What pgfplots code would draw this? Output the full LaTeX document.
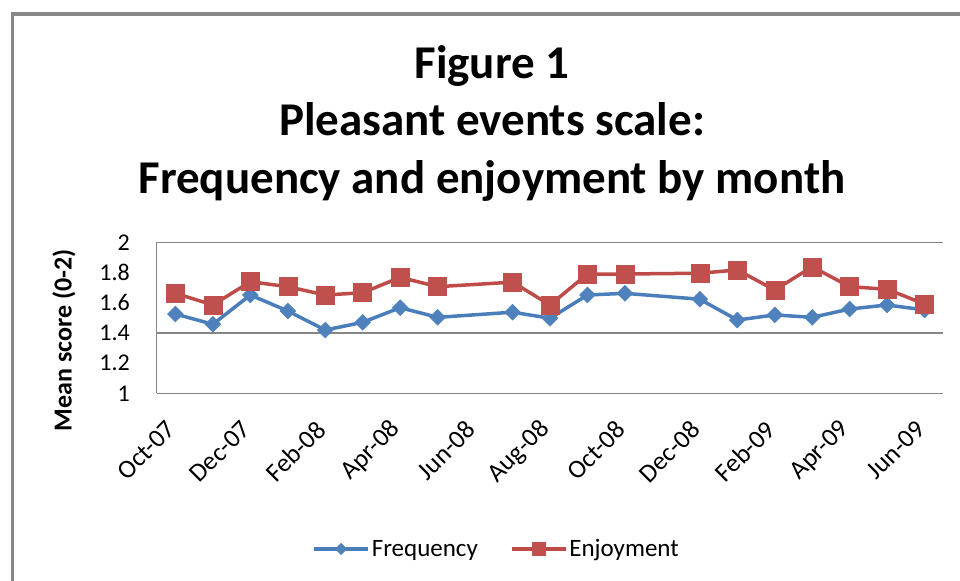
\documentclass[border=0pt]{standalone}
\usepackage{pgfplots}
\pgfplotsset{compat=1.18}
\usepackage{fontspec}
\setmainfont{Carlito}
\definecolor{fblue}{HTML}{4A7EBB}
\definecolor{fbluem}{HTML}{4F81BD}
\definecolor{ered}{HTML}{BE4B48}
\definecolor{eredm}{HTML}{C0504D}
\definecolor{axgray}{HTML}{868686}
\definecolor{framegray}{HTML}{888888}
\begin{document}
\begin{tikzpicture}[x=1bp,y=1bp]
\useasboundingbox (0,0) rectangle (960,581);
% outer frame
\draw[framegray, line width=3.5bp] (12.5,-10) -- (12.5,567) -- (975,567);
% title
\node[anchor=base, font=\fontsize{47bp}{54bp}\selectfont\bfseries] at (492,502.7) {Figure 1};
\node[anchor=base, font=\fontsize{47bp}{54bp}\selectfont\bfseries] at (492,445) {Pleasant events scale:};
\node[anchor=base, font=\fontsize{47bp}{54bp}\selectfont\bfseries] at (492,387.7) {Frequency and enjoyment by month};
% y label
\node[rotate=90, font=\fontsize{26bp}{30bp}\selectfont\bfseries] at (64,241) {Mean score (0-2)};
\begin{axis}[
  at={(156.7bp,187.7bp)}, anchor=south west,
  scale only axis, width=786.6bp, height=151bp,
  xmin=-0.5, xmax=20.5, ymin=1, ymax=2,
  axis x line*=bottom, axis y line*=left,
  axis line style={axgray, line width=1.5bp, -},
  xtick={0,2,...,20},
  xticklabels={Oct-07,Dec-07,Feb-08,Apr-08,Jun-08,Aug-08,Oct-08,Dec-08,Feb-09,Apr-09,Jun-09},
  ytick={1,1.2,1.4,1.6,1.8,2},
  yticklabels={1,1.2,1.4,1.6,1.8,2},
  major tick length=0pt,
  extra y ticks={1.4,2},
  extra y tick labels={},
  extra y tick style={grid=major, major grid style={axgray, line width=1.5bp}},
  yticklabel style={font=\fontsize{24bp}{28bp}\selectfont, inner sep=0pt, anchor=east, xshift=-26.7bp},
  xticklabel style={font=\fontsize{26bp}{30bp}\selectfont, inner sep=0pt, xshift=-4bp, yshift=-32bp, rotate=45, anchor=east},
  clip=false,
  legend columns=2,
  legend style={at={(0.432,-1.031)}, anchor=center, draw=none, fill=none,
    font=\fontsize{25bp}{29bp}\selectfont,
    /tikz/every even column/.append style={column sep=30bp},
    inner sep=0pt},
  legend image code/.code={\draw[mark repeat=2,mark phase=2,#1] plot coordinates {(0bp,0bp) (27bp,0bp) (54bp,0bp)};},
]
\addplot[fblue, line width=3.5bp, mark=square*, mark size=5.6bp,
  mark options={rotate=45, fill=fbluem, draw=fbluem, line width=0.5bp},
  legend image post style={mark size=4bp}]
  coordinates {
  (0,1.525) (1,1.457) (2,1.651) (3,1.545) (4,1.419) (5,1.470) (6,1.567) (7,1.503)
  (9,1.537) (10,1.497) (11,1.651) (12,1.662) (14,1.623) (15,1.485) (16,1.519)
  (17,1.503) (18,1.558) (19,1.585) (20,1.552)};
\addlegendentry{Frequency}
\addplot[ered, line width=3.5bp, mark=square*, mark size=9bp,
  mark options={fill=eredm, draw=eredm, line width=0.5bp},
  legend image post style={mark size=6.5bp}]
  coordinates {
  (0,1.662) (1,1.585) (2,1.739) (3,1.706) (4,1.651) (5,1.666) (6,1.768) (7,1.706)
  (9,1.736) (10,1.585) (11,1.790) (12,1.790) (14,1.795) (15,1.817) (16,1.684)
  (17,1.838) (18,1.706) (19,1.689) (20,1.591)};
\addlegendentry{Enjoyment}
\end{axis}
\end{tikzpicture}
\end{document}
